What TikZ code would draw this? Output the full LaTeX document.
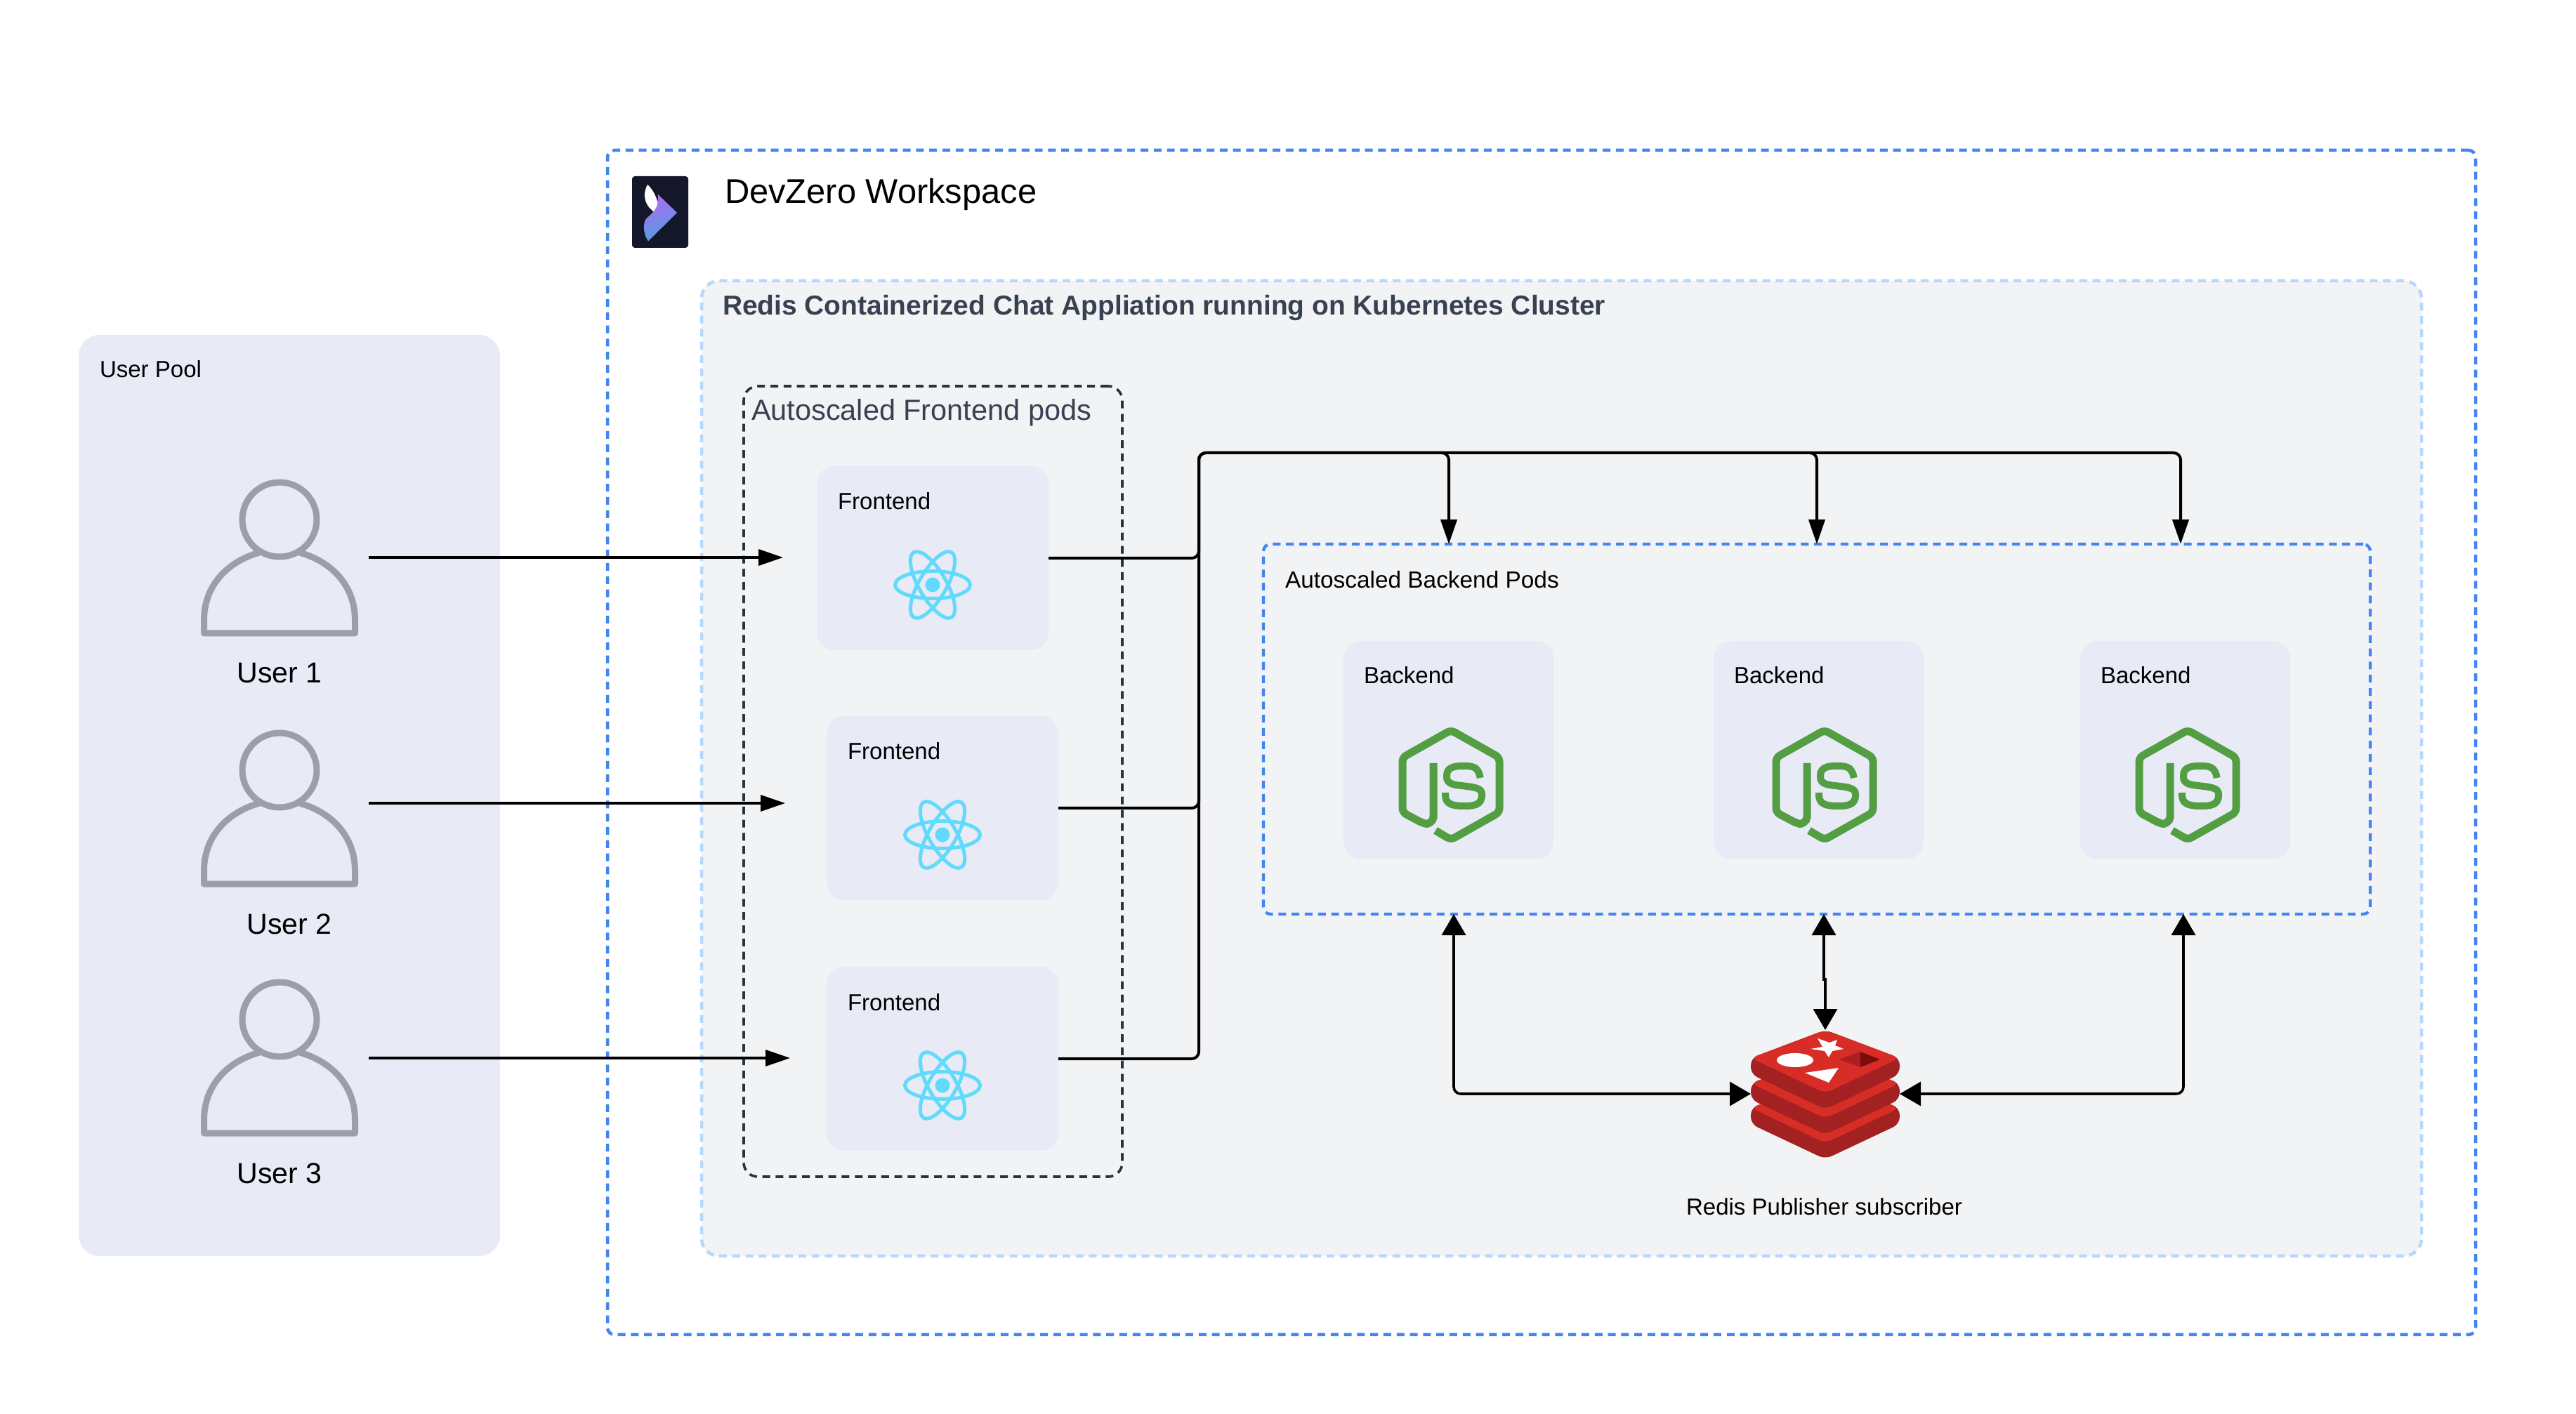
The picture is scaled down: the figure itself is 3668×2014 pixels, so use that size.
\documentclass[tikz,border=0pt]{standalone}
\usepackage{fontspec}
\setmainfont{Liberation Sans}
\usetikzlibrary{arrows.meta}
\definecolor{poolfill}{HTML}{E8EAF6}
\definecolor{clusterfill}{HTML}{F2F3F5}
\definecolor{dashblue}{HTML}{4385F5}
\definecolor{dashpale}{HTML}{B6D7FF}
\definecolor{slate}{HTML}{374151}
\definecolor{podline}{HTML}{2A323C}
\definecolor{usergray}{HTML}{9AA0A9}
\definecolor{reactblue}{HTML}{61DAFB}
\definecolor{nodegreen}{HTML}{539E43}
\definecolor{redistop}{HTML}{D82C27}
\definecolor{redisdark}{HTML}{A32120}
\definecolor{redispit}{HTML}{AD1E1F}
\definecolor{redisdeep}{HTML}{7A0C0C}
\definecolor{logodark}{HTML}{14162A}
\definecolor{logoviolet}{HTML}{AE6CF2}
\definecolor{logoblue}{HTML}{4F9FE0}
\tikzset{
  panel/.style={anchor=north west,inner sep=0,outer sep=0,rectangle},
  cardbox/.style={panel,fill=poolfill,rounded corners=2.5mm},
  dashbox/.style={panel,line width=.42mm,dash pattern=on 1.1mm off .78mm},
  txt/.style={anchor=base west,inner sep=0,outer sep=0,font=\fontsize{9.4}{11}\selectfont},
  wire/.style={line width=.4mm,rounded corners=1mm},
  link/.style={wire,-{Triangle[length=3.5mm,width=2.3mm]}},
  userlink/.style={link,line width=.33mm},
  twoway/.style={wire,line width=.36mm,{Triangle[length=3mm,width=3.4mm]}-{Triangle[length=3mm,width=3.4mm]}},
  usericon/.pic={
    \draw[usergray,line width=.9mm] (0,0) circle (5.3mm);
    \draw[usergray,line width=.9mm,line join=round] (-28.5,47) .. controls (-75,60) and (-107.5,95) .. (-107.5,143) -- (-107.5,162) -- (107.5,162) -- (107.5,143) .. controls (107.5,95) and (75,60) .. (28.5,47);
  },
  reacticon/.pic={
    \foreach \a in {0,60,120} \draw[reactblue,line width=.5mm,rotate=\a] (0,0) ellipse [x radius=5.35mm,y radius=1.95mm];
    \fill[reactblue] (0,0) circle (1.05mm);
  },
  jsicon/.pic={
    \draw[nodegreen,line width=1.1mm,rounded corners=.6mm] (-25,-31) -- (-25,40) .. controls (-25,52) and (-33,56) .. (-41,54) -- (-69,39) -- (-69,-39) -- (0,-78) -- (69,-39) -- (69,39) -- (0,78) -- (-22,65);
    \draw[nodegreen,line width=1mm] (41.7,-10) .. controls (39,-27) and (30,-27) .. (16,-27) .. controls (-6,-27) and (-6,-18) .. (-6,-11) .. controls (-6,-1) and (6,0) .. (14,1) .. controls (35,3) and (44,5) .. (44,13) .. controls (45,30) and (30,30) .. (18,30) .. controls (-7,30) and (-8,22) .. (-8,11);
  },
  redislayer/.pic={
    \fill[redisdark,rounded corners=1mm] (0,-91) -- (106,-51) -- (106,-28) -- (0,22) -- (-106,-28) -- (-106,-51) -- cycle;
    \fill[redistop,rounded corners=1mm] (0,-91) -- (106,-51) -- (0,-1) -- (-106,-51) -- cycle;
  },
  redisicon/.pic={
    \foreach \s in {71,36,0} \pic at (0,\s) {redislayer};
    \fill[white] (-21,-64) -- (-4,-67) -- (-11,-79) -- (6,-73) -- (17,-77) -- (14,-69) -- (26,-64) -- (10,-61) -- (5,-52) -- (-1,-61) -- cycle;
    \fill[white] (-43,-48) ellipse [x radius=2.6mm,y radius=1mm];
    \fill[white] (-29,-30) -- (19,-37) -- (5,-16) -- cycle;
    \fill[redispit] (19,-49) -- (50,-60) -- (50,-38) -- cycle;
    \fill[redisdeep] (50,-60) -- (78,-49) -- (50,-38) -- cycle;
  },
  logoicon/.pic={
    \fill[white] (922,263) .. controls (930,270) and (936,282) .. (939,298) -- (933,303) .. controls (920,295) and (913,280) .. (922,263) -- cycle;
    \shade[left color=logoviolet,right color=logoblue,shading angle=20] (936.5,276.5) -- (964,303) -- (923,343.5) .. controls (917,335) and (915,322) .. (919,313) .. controls (925,305) and (940,300) .. (936.5,276.5) -- cycle;
  }
}
\begin{document}
\begin{tikzpicture}[x=.1mm,y=-.1mm]
  \useasboundingbox (0,0) rectangle (3668,2014);
  \fill[white] (0,0) rectangle (3668,2014);
  % User pool
  \node[panel,fill=poolfill,rounded corners=3mm,minimum width=60mm,minimum height=131.2mm] (pool) at (112,477) {};
  \node[txt] (pooltitle) at (142,538) {User Pool};
  \foreach \n/\y/\lx/\ly in {1/740/398/973,2/1097/412/1330,3/1452/398/1685} {
    \pic at (398,\y) {usericon};
    \node[txt,anchor=base,font=\fontsize{11.7}{13}\selectfont] (user\n label) at (\lx,\ly) {User \n};
  }
  \coordinate (user1) at (525,794);
  \coordinate (user2) at (525,1144);
  \coordinate (user3) at (525,1507);
  % Workspace
  \node[dashbox,draw=dashblue,line width=.45mm,rounded corners=1mm,minimum width=266mm,minimum height=168.7mm] (workspace) at (865,214) {};
  \node[panel,fill=logodark,rounded corners=.4mm,minimum width=8mm,minimum height=10.2mm] (logo) at (900,251) {};
  \pic at (0,0) {logoicon};
  \node[txt,font=\fontsize{13.9}{16}\selectfont] (worktitle) at (1032,290) {DevZero Workspace};
  \node[dashbox,fill=clusterfill,draw=dashpale,line width=.45mm,rounded corners=2.5mm,minimum width=244.9mm,minimum height=138.9mm] (cluster) at (999,400) {};
  \node[txt,text=slate,font=\fontsize{11.08}{13}\selectfont\bfseries] (clustertitle) at (1029,449) {Redis Containerized Chat Appliation running on Kubernetes Cluster};
  % Frontend pods
  \node[dashbox,draw=podline,line width=.36mm,rounded corners=2mm,minimum width=53.9mm,minimum height=112.6mm] (frontpods) at (1059,550) {};
  \node[txt,text=slate,font=\fontsize{11.8}{14}\selectfont] (frontpodstitle) at (1070,599) {Autoscaled Frontend pods};
  \foreach \n/\x/\y in {1/1163/664,2/1177/1020,3/1177/1377} {
    \node[cardbox,minimum width=33mm,minimum height=26.2mm] (front\n) at (\x,\y) {};
    \node[txt] (front\n label) at (\x+30,\y+62) {Frontend};
    \pic at (\x+165,\y+169) {reacticon};
  }
  % Backend pods
  \node[dashbox,draw=dashblue,rounded corners=1mm,minimum width=157.6mm,minimum height=52.7mm] (backpods) at (1799,775) {};
  \node[txt,font=\fontsize{9.5}{11}\selectfont] (backpodstitle) at (1830,838) {Autoscaled Backend Pods};
  \foreach \n/\x/\ix in {1/1913/2066,2/2440/2598,3/2962/3115} {
    \node[cardbox,minimum width=29.9mm,minimum height=31.1mm] (back\n) at (\x,913) {};
    \node[txt] (back\n label) at (\x+29,974) {Backend};
    \pic at (\ix,1118) {jsicon};
  }
  % Redis
  \node[inner sep=0,outer sep=0,minimum width=21.2mm,minimum height=18.2mm] (redis) at (2599,1558) {};
  \pic at (redis.center) {redisicon};
  \node[txt] (redislabel) at (2401,1730) {Redis Publisher subscriber};
  % Connectors
  \coordinate (busTop) at (1707,645);
  \coordinate (tap1) at (2063,645);
  \coordinate (tap2) at (2587,645);
  \coordinate (tap3) at (3105,645);
  \coordinate (podL) at (2070,1302);
  \coordinate (podM) at (2597,1302);
  \coordinate (podR) at (3109,1302);
  \coordinate (frontin1) at (1115,794);
  \coordinate (frontin2) at (1118,1144);
  \coordinate (frontin3) at (1125,1507);
  \foreach \n in {1,2,3} {
    \draw[userlink] (user\n) -- (frontin\n);
    \draw[link] (front\n.east) -| (busTop) -- (tap\n) -- (tap\n |- backpods.north);
  }
  \draw[twoway] (podL) |- (redis.west);
  \draw[twoway] (podR) |- (redis.east);
  \draw[twoway,rounded corners=0] (podM) -- ++(0,93) -- ++(2,0) -- (redis.north);
\end{tikzpicture}
\end{document}
